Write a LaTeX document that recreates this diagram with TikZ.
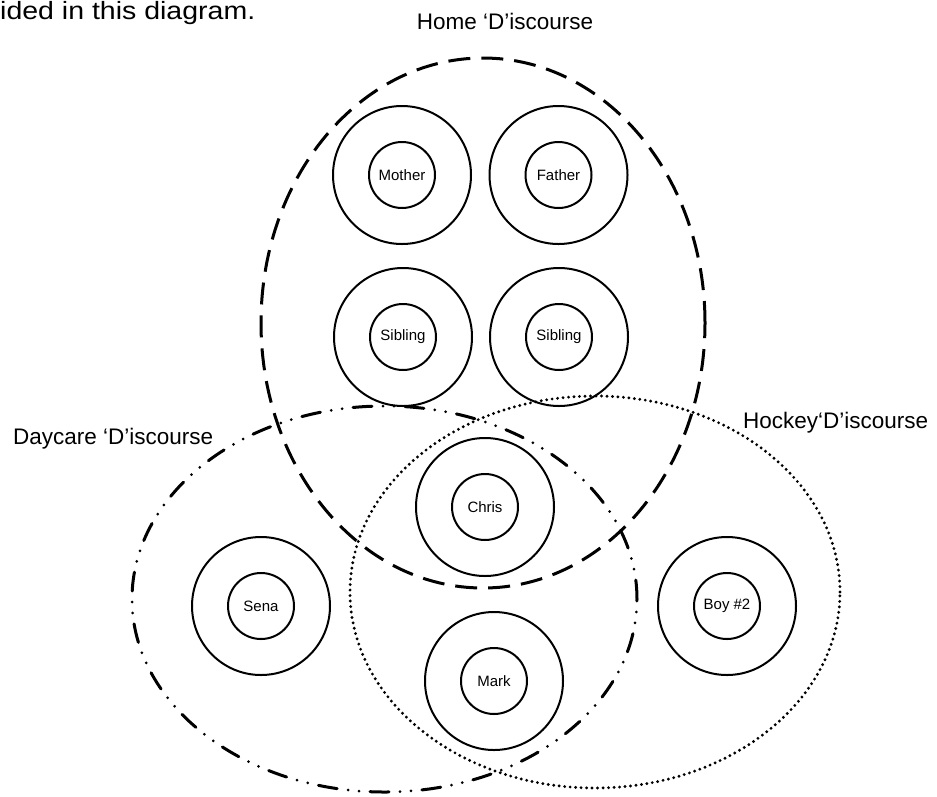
\documentclass[tikz,border=0pt]{standalone}
\usepackage{fontspec}
\setmainfont{Liberation Sans}
\usetikzlibrary{shapes.geometric}
\begin{document}
\begin{tikzpicture}[x=1pt,y=-1pt,
  outerring/.style={circle,draw,line width=2pt,minimum size=138pt,inner sep=0pt},
  innerring/.style={circle,draw,line width=2pt,minimum size=66pt,inner sep=0pt,
    font=\fontsize{15}{18}\selectfont},
  sphere/.style={ellipse,draw,line width=3pt,inner sep=0pt},
  homeline/.style={line cap=butt,dash pattern=on 22pt off 11pt},
  daycareline/.style={line cap=round,dash pattern=on 19pt off 11pt on 0pt off 11pt on 0pt off 11pt},
  hockeyline/.style={line cap=round,line width=3.2pt,dash pattern=on 0pt off 5.5pt},
  headtext/.style={font=\fontsize{22.5}{27}\selectfont,inner sep=0pt}
]
\useasboundingbox (0,0) rectangle (937,796);

% running text cut from the page above
\node[font=\fontsize{25}{30}\selectfont,inner sep=0pt,anchor=base west] (caption) at (0,19)
  {\scalebox{1.14}[1]{ided in this diagram.}};

% the three Discourse spheres
\node[sphere,homeline,minimum width=444pt,minimum height=530pt] (home) at (483,323) {};
\node[sphere,daycareline,minimum width=505pt,minimum height=386pt] (daycare) at (384.5,599) {};
\node[sphere,hockeyline,minimum width=490pt,minimum height=392pt] (hockey) at (595,592) {};

\node[headtext,anchor=base] (homelabel) at (505,29) {Home ‘D’iscourse};
\node[headtext,anchor=base west] (daycarelabel) at (13,444) {Daycare ‘D’iscourse};
\node[headtext,anchor=base west] (hockeylabel) at (743,428) {Hockey‘D’iscourse};

% people, each with an inner and an outer ring
\node[outerring] (mother-o) at (402,175) {};
\node[innerring] (mother) at (mother-o) {Mother};
\node[outerring] (father-o) at (558.5,175) {};
\node[innerring] (father) at (father-o) {Father};
\node[outerring] (siblinga-o) at (403,337) {};
\node[innerring] (siblinga) at (siblinga-o) {Sibling};
\node[outerring] (siblingb-o) at (559,337) {};
\node[innerring] (siblingb) at (siblingb-o) {Sibling};
\node[outerring] (chris-o) at (485,507) {};
\node[innerring] (chris) at (chris-o) {Chris};
\node[outerring] (sena-o) at (261,606) {};
\node[innerring] (sena) at (sena-o) {Sena};
\node[outerring] (mark-o) at (494,681) {};
\node[innerring] (mark) at (mark-o) {Mark};
\node[outerring] (boy-o) at (727,606) {};
\node[innerring] (boy) at (boy-o) {Boy \#2};
\end{tikzpicture}
\end{document}
